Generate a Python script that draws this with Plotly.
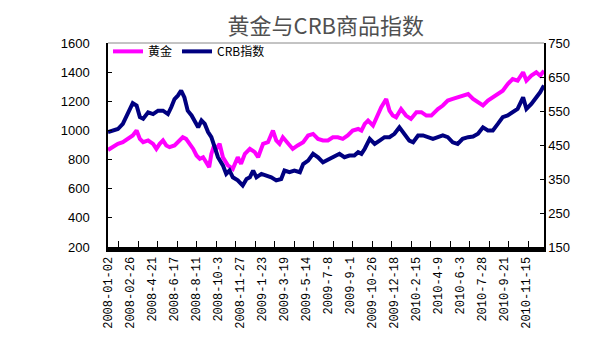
import plotly.graph_objects as go

# trading-day index and values
gold_day = [0, 9, 18, 27, 36, 45, 52, 58, 64, 73, 82, 88, 94, 100, 106, 112, 121, 127, 136, 142,
            149, 155, 161, 167, 173, 179, 184, 188, 193, 197, 203, 209, 218, 227, 236, 242, 249, 258,
            267, 273, 282, 291, 300, 306, 312, 318, 327, 336, 345, 355, 364, 373, 382, 391, 400, 409,
            418, 427, 436, 445, 455, 461, 467, 473, 482, 488, 497, 506, 512, 518, 524, 533, 542, 551,
            561, 570, 579, 588, 600, 609, 618, 627, 636, 645, 655, 664, 673, 682, 691, 700, 709, 718,
            727, 736, 745, 755, 761, 770, 779, 786, 793]
gold_val = [866, 885, 908, 919, 942, 965, 999, 942, 919, 931, 908, 873, 908, 931, 897, 885, 897, 919, 953, 942,
            908, 873, 828, 805, 816, 782, 748, 839, 897, 873, 908, 816, 760, 736, 816, 771, 839, 873,
            851, 816, 908, 919, 999, 931, 908, 953, 908, 873, 897, 919, 965, 976, 942, 931, 931, 953,
            953, 942, 965, 999, 1010, 999, 1045, 1068, 1034, 1090, 1159, 1216, 1136, 1102, 1090, 1147, 1102, 1079,
            1125, 1125, 1102, 1102, 1147, 1171, 1205, 1216, 1227, 1239, 1250, 1216, 1193, 1171, 1205, 1227, 1250, 1273,
            1318, 1353, 1342, 1399, 1342, 1376, 1399, 1376, 1410]

crb_day = [0, 9, 18, 27, 36, 45, 52, 58, 64, 73, 82, 91, 100, 109, 115, 121, 127, 133, 139, 145,
           152, 158, 164, 170, 176, 182, 188, 194, 200, 209, 215, 221, 227, 236, 245, 252, 258, 264,
           270, 279, 288, 297, 306, 315, 321, 330, 339, 349, 355, 364, 373, 382, 391, 403, 412, 421,
           430, 439, 448, 455, 461, 467, 476, 485, 494, 503, 512, 521, 530, 539, 548, 555, 564, 573,
           582, 591, 600, 609, 618, 627, 636, 645, 655, 664, 673, 682, 691, 700, 709, 718, 727, 736,
           745, 755, 761, 770, 779, 786, 793]
crb_val = [488, 493, 497, 512, 541, 573, 566, 532, 527, 546, 541, 551, 551, 541, 561, 585, 595, 610, 590, 551,
           537, 522, 502, 522, 512, 488, 473, 444, 414, 390, 365, 375, 355, 346, 331, 350, 355, 375,
           355, 365, 360, 355, 346, 350, 375, 370, 375, 370, 394, 404, 424, 414, 399, 409, 414, 424,
           414, 419, 419, 429, 424, 439, 468, 453, 463, 473, 473, 483, 502, 483, 463, 458, 478, 478,
           473, 468, 473, 478, 473, 458, 453, 468, 473, 475, 483, 502, 493, 493, 512, 532, 537, 546,
           556, 590, 556, 571, 590, 605, 625]

tick_days = [0, 40, 80, 120, 160, 200, 240, 280, 320, 360, 400, 440, 480, 520, 560, 600, 640, 680, 720, 760]
tick_labels = ["2008-01-02", "2008-02-26", "2008-4-21", "2008-6-17", "2008-8-11", "2008-10-3",
               "2008-11-27", "2009-1-23", "2009-3-19", "2009-5-14", "2009-7-8", "2009-9-1",
               "2009-10-26", "2009-12-18", "2010-2-15", "2010-4-9", "2010-6-3", "2010-7-28",
               "2010-9-21", "2010-11-15"]

fig = go.Figure()
fig.add_trace(go.Scatter(x=gold_day, y=gold_val, name="黄金", mode="lines",
                         line=dict(color="#ff00ff", width=4)))
fig.add_trace(go.Scatter(x=crb_day, y=crb_val, name="CRB指数", mode="lines", yaxis="y2",
                         line=dict(color="#000080", width=4)))

fig.update_layout(
    width=616, height=356,
    margin=dict(l=100, r=80, t=35, b=117),
    paper_bgcolor="white", plot_bgcolor="white",
    title=dict(text="黄金与CRB商品指数", x=0.516, xref="container", xanchor="center",
               y=0.95, yref="container", yanchor="middle",
               font=dict(family="Noto Sans CJK SC", size=22, color="#505050")),
    showlegend=True,
    legend=dict(x=0.0, y=1.03, xanchor="left", yanchor="top", orientation="h",
                bgcolor="rgba(0,0,0,0)", font=dict(family="Noto Sans CJK SC", size=12, color="black"),
                itemwidth=30, tracegroupgap=0),
    xaxis=dict(range=[0, 793], tickmode="array", tickvals=tick_days, ticktext=tick_labels,
               tickangle=-90, ticks="", showgrid=False, zeroline=False,
               showline=True, linecolor="black", linewidth=5,
               tickfont=dict(family="Liberation Mono", size=12, color="black"),
               minor=dict(tickmode="linear", tick0=19.5, dtick=35.45, ticks="inside",
                          ticklen=6, tickcolor="black", tickwidth=1, showgrid=False)),
    yaxis=dict(range=[200, 1600], dtick=200, tick0=200, showgrid=False, zeroline=False,
               showline=True, linecolor="black", linewidth=1.5, ticks="inside", ticklen=4,
               tickcolor="black", ticklabelstandoff=14,
               tickfont=dict(family="Liberation Sans", size=13, color="black")),
    yaxis2=dict(range=[150, 750], dtick=100, tick0=150, overlaying="y", side="right",
                showgrid=False, zeroline=False, showline=True, linecolor="black", linewidth=1.5,
                ticks="inside", ticklen=4, tickcolor="black", ticklabelstandoff=0,
                tickfont=dict(family="Liberation Sans", size=13, color="black")),
    shapes=[dict(type="line", xref="paper", yref="paper", x0=0, x1=1, y0=1, y1=1,
                 line=dict(color="#888888", width=1))],
)

fig.write_html("out.html")
